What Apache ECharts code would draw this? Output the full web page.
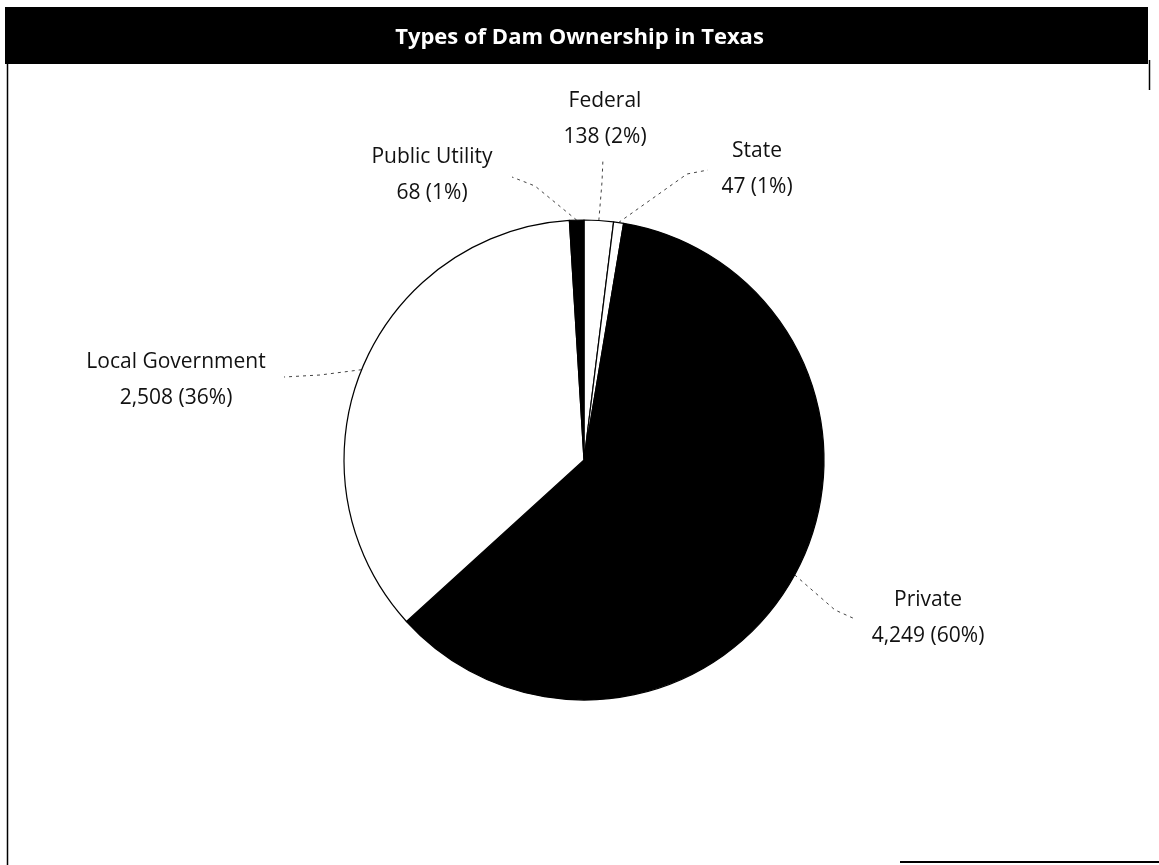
<!DOCTYPE html>
<html>
<head>
<meta charset="utf-8">
<script src="https://cdn.jsdelivr.net/npm/echarts@6/dist/echarts.min.js"></script>
<style>
  html, body { margin: 0; padding: 0; background: #fff; }
  #chart { width: 1159px; height: 865px; }
</style>
</head>
<body>
<div id="chart"></div>
<script>
// ---- Data ----
const titleText = 'Types of Dam Ownership in Texas';
const categories = ['Federal', 'State', 'Private', 'Local Government', 'Public Utility'];
const values = [138, 47, 4249, 2508, 68];
const percentLabels = [2, 1, 60, 36, 1];
const sliceColors = ['#ffffff', '#ffffff', '#000000', '#ffffff', '#000000'];

// ---- Label placement (annotation only) ----
// label block centre and leader-line elbow / end points
const labelPlacement = [
  { cx: 605, cy: 119, elbow: [602, 182], end: [603, 158] },
  { cx: 757, cy: 169, elbow: [687, 174], end: [708, 170] },
  { cx: 928, cy: 618, elbow: [835, 610], end: [855, 619] },
  { cx: 176, cy: 380, elbow: [320, 375], end: [284, 377] },
  { cx: 432, cy: 175, elbow: [535, 186], end: [512, 177] }
];

const chart = echarts.init(document.getElementById('chart'), null, { renderer: 'canvas' });

const data = categories.map((name, i) => ({
  name: name,
  value: values[i],
  itemStyle: { color: sliceColors[i] }
}));

const option = {
  backgroundColor: '#ffffff',
  animation: false,
  title: {
    text: titleText,
    left: 'center',
    top: 22,
    textStyle: {
      color: '#ffffff',
      fontFamily: 'Open Sans',
      fontWeight: 'bold',
      fontSize: 22
    }
  },
  graphic: [
    { type: 'rect', z: -1, shape: { x: 5, y: 7, width: 1143, height: 57 }, style: { fill: '#000' } },
    { type: 'line', shape: { x1: 7.5, y1: 64, x2: 7.5, y2: 865 }, style: { stroke: '#000', lineWidth: 1.5 } },
    { type: 'line', shape: { x1: 1149.5, y1: 60, x2: 1149.5, y2: 90 }, style: { stroke: '#000', lineWidth: 1.5 } },
    { type: 'line', shape: { x1: 900, y1: 862, x2: 1159, y2: 862 }, style: { stroke: '#000', lineWidth: 2 } }
  ],
  series: [{
    type: 'pie',
    center: [584, 460],
    radius: 240,
    startAngle: 90,
    clockwise: true,
    avoidLabelOverlap: false,
    data: data,
    itemStyle: { borderColor: '#000', borderWidth: 1.2 },
    emphasis: { disabled: true },
    label: {
      show: true,
      color: '#111',
      fontFamily: 'Open Sans',
      fontSize: 21,
      lineHeight: 36,
      formatter: function (p) {
        return p.name + '\n' + p.value.toLocaleString('en-US') + ' (' + percentLabels[p.dataIndex] + '%)';
      }
    },
    labelLine: {
      show: true,
      lineStyle: { color: '#444', width: 1, type: [3, 4] }
    },
    labelLayout: function (params) {
      const lp = labelPlacement[params.dataIndex];
      const start = params.labelLinePoints ? params.labelLinePoints[0] : lp.elbow;
      return {
        x: lp.cx,
        y: lp.cy,
        align: 'center',
        verticalAlign: 'middle',
        labelLinePoints: [start, lp.elbow, lp.end]
      };
    }
  }]
};

chart.setOption(option);
</script>
</body>
</html>
